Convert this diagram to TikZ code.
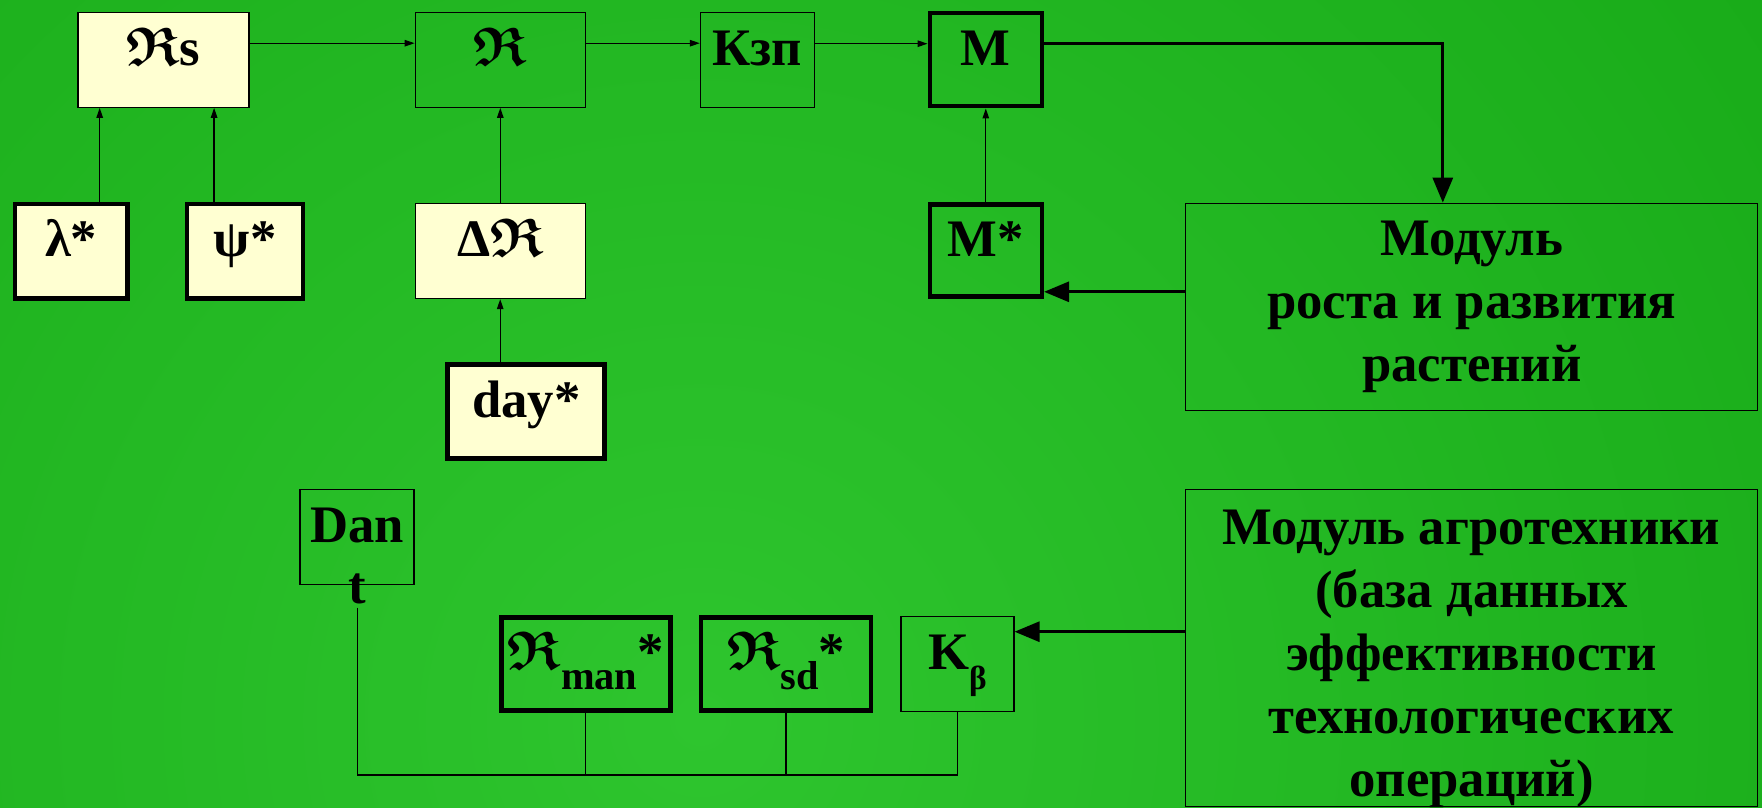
\documentclass[tikz,border=0pt]{standalone}
\usepackage{fontspec}
\usepackage{graphicx}
\setmainfont{Liberation Serif}
\usetikzlibrary{arrows.meta}
\definecolor{bgin}{RGB}{46,197,46}
\definecolor{bgout}{RGB}{10,154,10}
\definecolor{cream}{RGB}{255,255,210}
\newcommand{\fr}{\scalebox{3.1}{\fontsize{10}{10}\usefont{U}{euf}{b}{n}R}}
\newcommand{\lowr}[2]{\raisebox{-0.4cm}{\fontsize{#1}{#1}\selectfont #2}}
\begin{document}
\begin{tikzpicture}[x=0.02cm,y=-0.02cm,
  every node/.style={font=\bfseries\fontsize{30}{35.8}\selectfont,inner sep=2pt},
  sz/.style 2 args={minimum width={#1*0.02cm},minimum height={#2*0.02cm}},
  box/.style={draw,line width=0.75pt,text height=0.75cm,text depth=0.53cm},
  fat/.style={box,line width=2.6pt},
  pale/.style={fill=cream},
  modbox/.style={draw,line width=0.75pt,align=center},
  arr/.style={line width=0.7pt,-{Triangle[length=0.2cm,width=0.13cm]}},
  big/.style={line width=1.7pt,-{Triangle[length=0.5cm,width=0.4cm]}}]
\useasboundingbox (0,0) rectangle (1762,808);
\begin{scope}
\clip (0,0) rectangle (1762,808);
\shade[inner color=bgin,outer color=bgout] (700,720) circle (44cm);
\end{scope}
\node[box,pale,sz={171}{95}] (rs) at (163.6,59.7) {\fr s};
\node[box,sz={170}{95}] (r) at (500.3,59.7) {\fr};
\node[box,sz={114}{95}] (kzp) at (757.5,59.7) {Кзп};
\node[fat,sz={112}{93}] (m) at (985.8,59.7) {M};
\node[fat,pale,sz={112.5}{94.5}] (lam) at (71.2,251.4) {λ*};
\node[fat,pale,sz={116}{94.5}] (psi) at (245.1,251.4) {ψ*};
\node[box,pale,sz={170}{95}] (dr) at (500.3,251) {Δ\fr};
\node[fat,sz={112}{92.5}] (mst) at (985.8,250.5) {M*};
\node[fat,pale,sz={157}{94.5}] (day) at (526.2,411.5) {day*};
\node[modbox,sz={572}{207}] (mod1) at (1471.8,306.8) {Модуль\\роста и развития\\растений};
\node[modbox,sz={572}{317}] (mod2) at (1471.5,647.7) {};
\node[align=center] (mod2t) at ([yshift=-0.22cm]mod2.center) {Модуль агротехники\\(база данных\\эффективности\\технологических\\операций)};
\node[box,sz={114}{95}] (dan) at (357.1,536.9) {Dan};
\node[anchor=base] (tt) at (357.6,603.3) {t};
\node[fat,sz={169}{93}] (rman) at (585.8,663.9) {\fr\lowr{23}{man}*};
\node[fat,sz={170}{93}] (rsd) at (786,663.9) {\fr\lowr{23}{sd}*};
\node[box,sz={113}{95}] (kb) at (957.4,664) {K\lowr{19}{β}};
\coordinate (bus) at (957.4,775);
\draw[arr] ([yshift=0.33cm]rs.east) -- ([yshift=0.33cm]r.west);
\draw[arr] ([yshift=0.33cm]r.east) -- ([yshift=0.33cm]kzp.west);
\draw[arr] ([yshift=0.32cm]kzp.east) -- ([yshift=0.32cm]m.west);
\draw[arr] ([xshift=0.57cm]lam.north) -- ([xshift=0.57cm]lam.north |- rs.south);
\draw[arr] ([xshift=-0.62cm]psi.north) -- ([xshift=-0.62cm]psi.north |- rs.south);
\draw[arr] (dr) -- (r);
\draw[arr] ([xshift=-0.52cm]day.north) -- ([xshift=-0.52cm]day.north |- dr.south);
\draw[arr] (mst) -- (m);
\draw[big] ([yshift=0.32cm]m.east) -| ([xshift=-0.58cm]mod1.north);
\draw[big] ([yshift=0.3cm]mod1.west) -- ([yshift=0.3cm]mod1.west -| mst.east);
\draw[big] ([yshift=0.32cm]mod2.west) -- ([yshift=0.32cm]mod2.west -| kb.east);
\draw[line width=0.7pt] (tt.south) |- (bus) -- (kb.south) (rman.south) -- (rman.south |- bus) (rsd.south) -- (rsd.south |- bus);
\end{tikzpicture}
\end{document}
